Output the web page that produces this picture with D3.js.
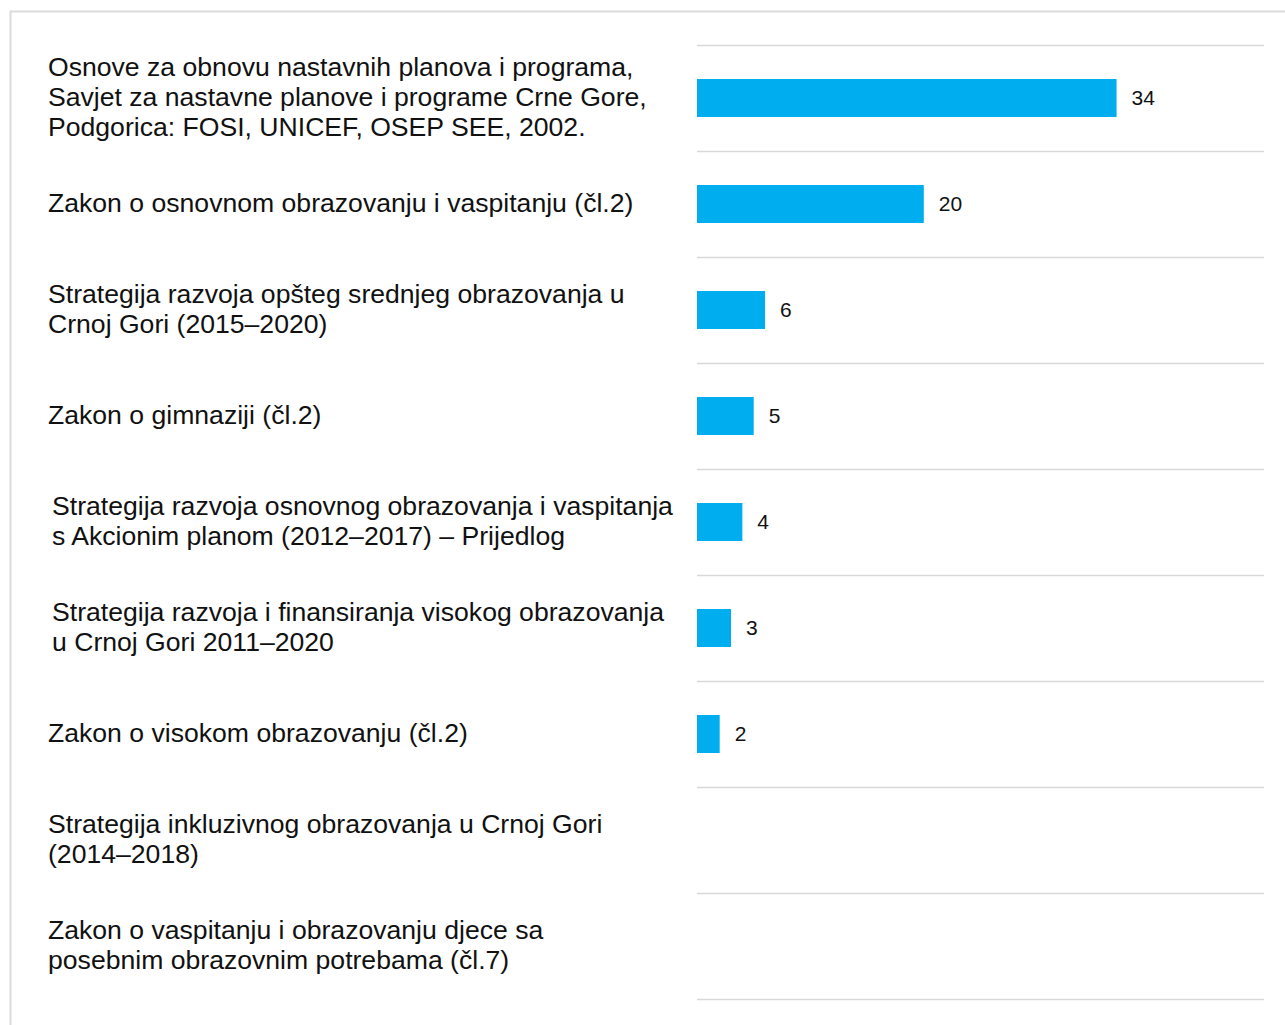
<!DOCTYPE html>
<html><head><meta charset="utf-8">
<script src="https://cdn.jsdelivr.net/npm/d3@7"></script>
<style>html,body{margin:0;padding:0;background:#fff;overflow:hidden}</style>
</head><body>
<svg id="c" width="1285" height="1025"></svg>
<script>
const categories = [
  ["Osnove za obnovu nastavnih planova i programa,", "Savjet za nastavne planove i programe Crne Gore,", "Podgorica: FOSI, UNICEF, OSEP SEE, 2002."],
  ["Zakon o osnovnom obrazovanju i vaspitanju (čl.2)"],
  ["Strategija razvoja opšteg srednjeg obrazovanja u", "Crnoj Gori (2015–2020)"],
  ["Zakon o gimnaziji (čl.2)"],
  ["Strategija razvoja osnovnog obrazovanja i vaspitanja", "s Akcionim planom (2012–2017) – Prijedlog"],
  ["Strategija razvoja i finansiranja visokog obrazovanja", "u Crnoj Gori 2011–2020"],
  ["Zakon o visokom obrazovanju (čl.2)"],
  ["Strategija inkluzivnog obrazovanja u Crnoj Gori", "(2014–2018)"],
  ["Zakon o vaspitanju i obrazovanju djece sa", "posebnim obrazovnim potrebama (čl.7)"]
];
// bar lengths as drawn in the picture
const values = [37, 20, 6, 5, 4, 3, 2, 0, 0];
// value labels as printed
const valueLabels = ["34", "20", "6", "5", "4", "3", "2", "", ""];
const xDomainMax = 50;

const svg = d3.select("#c");
const font = "'Liberation Sans', Arial, Helvetica, sans-serif";

// frame
svg.append("path").attr("d", `M10.5,1025 L10.5,11.5 L1285,11.5`)
  .attr("fill", "none").attr("stroke", "#dcdcdc").attr("stroke-width", 2);

const x = d3.scaleLinear().domain([0, xDomainMax]).range([697, 1264]);
const idx = d3.range(categories.length);
const y = d3.scaleBand().domain(idx).range([45, 999]).paddingInner(0).paddingOuter(0);
const barH = 38;

// grid lines at row boundaries
const bounds = idx.map(i => y(i)).concat([y(idx[idx.length - 1]) + y.bandwidth()]);
svg.append("g").selectAll("line").data(bounds).join("line")
  .attr("x1", x(0)).attr("x2", x(xDomainMax))
  .attr("y1", d => Math.round(d) + 0.5).attr("y2", d => Math.round(d) + 0.5)
  .attr("stroke", "#d9d9d9").attr("stroke-width", 1.5);

// bars
svg.append("g").selectAll("rect").data(values).join("rect")
  .attr("x", x(0))
  .attr("y", (d, i) => y(i) + y.bandwidth() / 2 - barH / 2)
  .attr("width", d => x(d) - x(0))
  .attr("height", d => d > 0 ? barH : 0)
  .attr("fill", "#00aeef");

// value labels
svg.append("g").selectAll("text").data(values).join("text")
  .attr("x", d => x(d) + 15)
  .attr("y", (d, i) => y(i) + y.bandwidth() / 2)
  .attr("dy", "0.35em")
  .attr("font-family", font).attr("font-size", 21).attr("fill", "#111")
  .text((d, i) => valueLabels[i]);

// category labels
const shifted = new Set([4, 5]);
const lineH = 30;
const lg = svg.append("g");
categories.forEach((lines, i) => {
  const cy = y(i) + y.bandwidth() / 2 - 1;
  const t = lg.append("text")
    .attr("font-family", font).attr("font-size", 26.6).attr("fill", "#111");
  lines.forEach((ln, j) => {
    t.append("tspan")
      .attr("x", shifted.has(i) ? 52 : 48)
      .attr("y", cy + (j - (lines.length - 1) / 2) * lineH)
      .attr("dy", "0.35em")
      .text(ln);
  });
});
</script>
</body></html>
